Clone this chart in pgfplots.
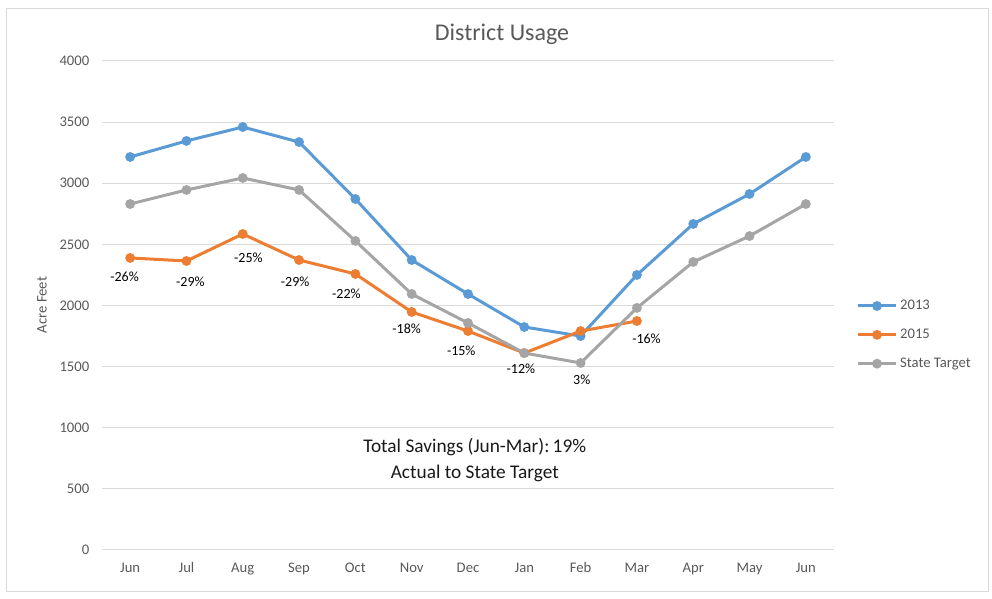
\documentclass[border=0pt]{standalone}
\usepackage{pgfplots}
\pgfplotsset{compat=1.18}
\usepackage{fontspec}
\setmainfont{Carlito}
\definecolor{c13}{HTML}{5B9BD5}
\definecolor{c15}{HTML}{ED7D31}
\definecolor{cst}{HTML}{A5A5A5}
\definecolor{txt}{HTML}{595959}
\definecolor{gridc}{HTML}{D9D9D9}
\begin{document}
\begin{tikzpicture}
\path[use as bounding box] (0,0) rectangle (744pt,449.25pt);
\draw[gridc, line width=0.6pt] (4.5pt,6pt) rectangle (741pt,443pt);
\node[txt, font=\fontsize{18}{21}\selectfont] at (376.5pt,423.75pt) {District Usage};
\node[txt, rotate=90, font=\fontsize{11}{13}\selectfont] at (31.5pt,220.5pt) {Acre Feet};
\begin{axis}[
  at={(76.5pt,36.75pt)}, anchor=south west, scale only axis,
  width=549pt, height=366.75pt,
  xmin=-0.5, xmax=12.5, ymin=0, ymax=4000,
  ytick={0,500,...,4000},
  xtick={0,...,12},
  xticklabels={Jun,Jul,Aug,Sep,Oct,Nov,Dec,Jan,Feb,Mar,Apr,May,Jun},
  axis line style={draw=none},
  major tick length=0pt,
  ymajorgrids, grid style={gridc, line width=0.75pt},
  tick label style={txt, font=\fontsize{11}{13}\selectfont},
  /pgf/number format/assume math mode=true,
  /pgf/number format/1000 sep={},
  yticklabel style={xshift=-6pt},
  xticklabel style={yshift=-6pt},
  clip=false,
  legend style={at={(1.025,0.44)}, anchor=west, draw=none, fill=none,
    font=\fontsize{11}{13}\selectfont, text=txt, row sep=9pt,
    /tikz/every even column/.append style={column sep=0pt}},
  legend cell align=left,
  legend image code/.code={
    \draw[#1] (0cm,0cm) -- (1.0cm,0cm);
    \draw[#1, mark=*, only marks] plot coordinates {(0.5cm,0cm)};
  },
  every axis plot/.append style={line width=2.25pt, mark=*, mark size=2.5pt, mark options={solid}},
]
\addplot[c13] coordinates {(0,3215) (1,3346) (2,3460) (3,3337) (4,2871) (5,2372) (6,2094) (7,1824) (8,1750) (9,2250) (10,2667) (11,2912) (12,3215)};
\addlegendentry{2013}
\addplot[c15] coordinates {(0,2389) (1,2364) (2,2585) (3,2372) (4,2258) (5,1947) (6,1791) (7,1611) (8,1791) (9,1873)};
\addlegendentry{2015}
\addplot[cst] coordinates {(0,2830) (1,2945) (2,3043) (3,2945) (4,2528) (5,2094) (6,1857) (7,1611) (8,1530) (9,1980) (10,2356) (11,2568) (12,2830)};
\addlegendentry{State Target}
\begin{scope}[every node/.style={font=\fontsize{10.5}{12}\selectfont, text=black}]
\node at (axis cs:-0.10,2236) {-26\%};
\node at (axis cs:1.07,2195) {-29\%};
\node at (axis cs:2.10,2391) {-25\%};
\node at (axis cs:2.93,2192) {-29\%};
\node at (axis cs:3.84,2097) {-22\%};
\node at (axis cs:4.91,1808) {-18\%};
\node at (axis cs:5.88,1628) {-15\%};
\node at (axis cs:6.94,1486) {-12\%};
\node at (axis cs:8.02,1396) {3\%};
\node at (axis cs:9.17,1728) {-16\%};
\end{scope}
\node[align=center, font=\fontsize{14.5}{19.5}\selectfont, text=black!90] at (axis cs:6.12,736) {Total Savings (Jun-Mar):\,19\%\\Actual to State Target};
\end{axis}
\end{tikzpicture}
\end{document}
